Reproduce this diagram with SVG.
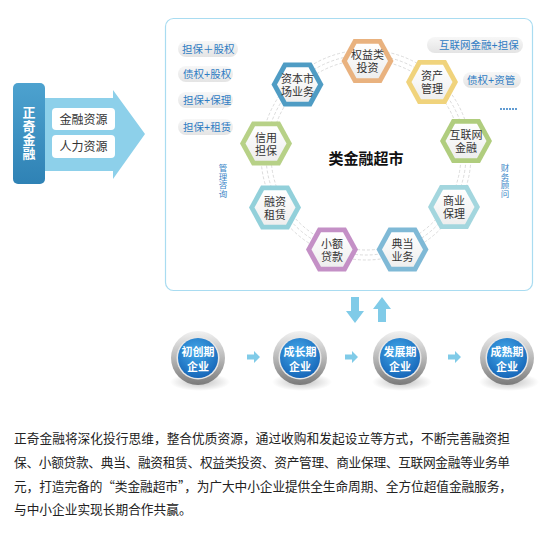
<svg xmlns="http://www.w3.org/2000/svg" xmlns:xlink="http://www.w3.org/1999/xlink" width="550" height="533" viewBox="0 0 550 533">
<style>
text{font-family:"Liberation Sans","Noto Sans CJK SC",sans-serif;}
.hx{font-size:11px;fill:#333;text-anchor:middle;}
.pill{font-size:10.5px;fill:#2f7cc3;}
.vt{font-size:8.5px;fill:#3a86c8;text-anchor:middle;}
.ct{font-size:11px;fill:#fff;font-weight:bold;text-anchor:middle;}
.para{font-size:12.7px;fill:#222;}
.cjk{font-family:"Noto Sans CJK SC",sans-serif;}
.ring{fill:none;stroke:#d2d2d2;stroke-width:0.8;stroke-dasharray:3 2;}
.sarr{fill:#80cbe8;}
</style>
<defs>
<polygon id="hexO" points="-26,0 -14,-22 14,-22 26,0 14,22 -14,22"/>
<polygon id="hexI" points="-20.5,0 -11,-17.3 11,-17.3 20.5,0 11,17.3 -11,17.3"/>
<linearGradient id="inG" x1="0" y1="0" x2="0" y2="1"><stop offset="0" stop-color="#ffffff"/><stop offset="1" stop-color="#eeeeee"/></linearGradient>
<linearGradient id="pillG" x1="0" y1="0" x2="0" y2="1"><stop offset="0" stop-color="#f7f7f7"/><stop offset="1" stop-color="#e4e4e4"/></linearGradient>
<linearGradient id="darkG" x1="0" y1="0" x2="0" y2="1"><stop offset="0" stop-color="#4da2cf"/><stop offset="1" stop-color="#2f82b5"/></linearGradient>
<linearGradient id="metalG" x1="0" y1="0" x2="0" y2="1"><stop offset="0" stop-color="#f2f2f2"/><stop offset="0.5" stop-color="#b8b8b8"/><stop offset="1" stop-color="#7a7a7a"/></linearGradient>
<radialGradient id="blueG" cx="0.45" cy="0.35" r="0.7"><stop offset="0" stop-color="#43a9ea"/><stop offset="1" stop-color="#1462b5"/></radialGradient>
<radialGradient id="shG" cx="0.5" cy="0.5" r="0.5"><stop offset="0" stop-color="#000" stop-opacity="0.25"/><stop offset="1" stop-color="#000" stop-opacity="0"/></radialGradient>
<g id="smallArrow"><polygon points="-6,-2.5 1,-2.5 1,-6 7,0 1,6 1,2.5 -6,2.5"/></g>
</defs>
<rect width="550" height="533" fill="#ffffff"/>

<!-- left block -->
<g id="source">
<polygon points="45,98 113,98 113,90 145,134 113,179 113,171 45,171" fill="#8dd0ea"/>
<rect x="13" y="83" width="32" height="101" rx="5" fill="url(#darkG)"/>
<text x="29" y="117" font-size="13" font-weight="bold" fill="#fff" text-anchor="middle"><tspan x="29">正</tspan><tspan x="29" dy="13.5">奇</tspan><tspan x="29" dy="13.5">金</tspan><tspan x="29" dy="13.5">融</tspan></text>
</g>
<g id="res1"><rect x="52" y="108" width="63" height="22" rx="4" fill="#fff"/><text x="83.5" y="123.5" font-size="12" fill="#333" text-anchor="middle">金融资源</text></g>
<g id="res2"><rect x="52" y="135" width="63" height="23" rx="4" fill="#fff"/><text x="83.5" y="151" font-size="12" fill="#333" text-anchor="middle">人力资源</text></g>

<!-- panel -->
<rect id="panel" x="165.5" y="18.5" width="367" height="272" rx="8" fill="#fff" stroke="#a9dcf1" stroke-width="1.2"/>

<g id="connectors">
<circle class="ring" cx="366" cy="155" r="95"/>
<circle class="ring" cx="366" cy="155" r="100"/>
<circle class="ring" cx="366" cy="155" r="105"/>
<!-- up/down arrows -->
<polygon points="351,297 359,297 359,311 364,311 355,323 346,311 351,311" fill="#80cbe8"/>
<polygon points="382,297 391,309 386,309 386,322 378,322 378,309 373,309" fill="#80cbe8"/>
<use href="#smallArrow" x="253" y="357" class="sarr"/>
<use href="#smallArrow" x="351" y="357" class="sarr"/>
<use href="#smallArrow" x="454" y="357" class="sarr"/>
</g>

<text id="title" x="366" y="164" font-size="15" font-weight="bold" fill="#111" text-anchor="middle">类金融超市</text>

<!-- pills -->
<g id="p1"><rect x="178" y="41" width="60" height="16" rx="8" fill="url(#pillG)"/><text class="pill" x="182" y="53">担保＋股权</text></g>
<g id="p2"><rect x="178" y="66" width="55" height="16" rx="8" fill="url(#pillG)"/><text class="pill" x="183" y="78">债权+股权</text></g>
<g id="p3"><rect x="178" y="92" width="55" height="16" rx="8" fill="url(#pillG)"/><text class="pill" x="183" y="104">担保+保理</text></g>
<g id="p4"><rect x="178" y="119" width="55" height="16" rx="8" fill="url(#pillG)"/><text class="pill" x="183" y="131">担保+租赁</text></g>
<g id="p5"><rect x="427" y="37" width="96" height="16" rx="8" fill="url(#pillG)"/><text class="pill" x="439" y="49">互联网金融+担保</text></g>
<g id="p6"><rect x="463" y="72" width="58" height="16" rx="8" fill="url(#pillG)"/><text class="pill" x="467" y="84">债权+资管</text></g>
<line id="dots" x1="500" y1="109" x2="518" y2="109" stroke="#2f7cc3" stroke-width="1.5" stroke-dasharray="2 1"/>
<text id="v1" class="vt"><tspan x="223" y="171">管</tspan><tspan x="223" dy="8.5">理</tspan><tspan x="223" dy="8.5">咨</tspan><tspan x="223" dy="8.5">询</tspan></text>
<text id="v2" class="vt"><tspan x="505" y="171">财</tspan><tspan x="505" dy="8.5">务</tspan><tspan x="505" dy="8.5">顾</tspan><tspan x="505" dy="8.5">问</tspan></text>

<!-- hexagons -->
<g id="h1" transform="translate(367.5,61)"><use href="#hexO" fill="#e9b27f"/><use href="#hexI" fill="url(#inG)"/><text class="hx" y="-2">权益类</text><text class="hx" y="11">投资</text></g>
<g id="h2" transform="translate(297.5,84.5)"><use href="#hexO" fill="#4f9cc4"/><use href="#hexI" fill="url(#inG)"/><text class="hx" y="-2">资本市</text><text class="hx" y="11">场业务</text></g>
<g id="h3" transform="translate(432,82)"><use href="#hexO" fill="#f0d37c"/><use href="#hexI" fill="url(#inG)"/><text class="hx" y="-2">资产</text><text class="hx" y="11">管理</text></g>
<g id="h4" transform="translate(466,141)"><use href="#hexO" fill="#b0cd7e"/><use href="#hexI" fill="url(#inG)"/><text class="hx" y="-2">互联网</text><text class="hx" y="11">金融</text></g>
<g id="h5" transform="translate(454,207)"><use href="#hexO" fill="#a3d6de"/><use href="#hexI" fill="url(#inG)"/><text class="hx" y="-2">商业</text><text class="hx" y="11">保理</text></g>
<g id="h6" transform="translate(402.5,249.5)"><use href="#hexO" fill="#7fb9d6"/><use href="#hexI" fill="url(#inG)"/><text class="hx" y="-2">典当</text><text class="hx" y="11">业务</text></g>
<g id="h7" transform="translate(332,249.5)"><use href="#hexO" fill="#c490c6"/><use href="#hexI" fill="url(#inG)"/><text class="hx" y="-2">小额</text><text class="hx" y="11">贷款</text></g>
<g id="h8" transform="translate(275,207.5)"><use href="#hexO" fill="#92d0da"/><use href="#hexI" fill="url(#inG)"/><text class="hx" y="-2">融资</text><text class="hx" y="11">租赁</text></g>
<g id="h9" transform="translate(266,143.5)"><use href="#hexO" fill="#b7d187"/><use href="#hexI" fill="url(#inG)"/><text class="hx" y="-2">信用</text><text class="hx" y="11">担保</text></g>

<!-- stages -->
<g id="s1" transform="translate(198,358)"><ellipse cx="2" cy="24" rx="30" ry="9" fill="url(#shG)"/><circle r="27" fill="url(#metalG)"/><circle r="21.5" fill="#e6e6e6"/><circle r="20" fill="url(#blueG)"/><text class="ct" y="-2">初创期</text><text class="ct" y="13">企业</text></g>
<g id="s2" transform="translate(300,358)"><ellipse cx="2" cy="24" rx="30" ry="9" fill="url(#shG)"/><circle r="27" fill="url(#metalG)"/><circle r="21.5" fill="#e6e6e6"/><circle r="20" fill="url(#blueG)"/><text class="ct" y="-2">成长期</text><text class="ct" y="13">企业</text></g>
<g id="s3" transform="translate(400,358)"><ellipse cx="2" cy="24" rx="30" ry="9" fill="url(#shG)"/><circle r="27" fill="url(#metalG)"/><circle r="21.5" fill="#e6e6e6"/><circle r="20" fill="url(#blueG)"/><text class="ct" y="-2">发展期</text><text class="ct" y="13">企业</text></g>
<g id="s4" transform="translate(507,358)"><ellipse cx="2" cy="24" rx="30" ry="9" fill="url(#shG)"/><circle r="27" fill="url(#metalG)"/><circle r="21.5" fill="#e6e6e6"/><circle r="20" fill="url(#blueG)"/><text class="ct" y="-2">成熟期</text><text class="ct" y="13">企业</text></g>

<!-- paragraph -->
<g id="paragraph">
<text class="para" x="14" y="443" textLength="496" lengthAdjust="spacing">正奇金融将深化投行思维，整合优质资源，通过收购和发起设立等方式，不断完善融资担</text>
<text class="para" x="14" y="467" textLength="496" lengthAdjust="spacing">保、小额贷款、典当、融资租赁、权益类投资、资产管理、商业保理、互联网金融等业务单</text>
<text class="para" x="14" y="491" textLength="498" lengthAdjust="spacing">元，打造完备的<tspan class="cjk">“</tspan>类金融超市<tspan class="cjk">”</tspan>，为广大中小企业提供全生命周期、全方位超值金融服务，</text>
<text class="para" x="14" y="514">与中小企业实现长期合作共赢。</text>
</g>
</svg>
